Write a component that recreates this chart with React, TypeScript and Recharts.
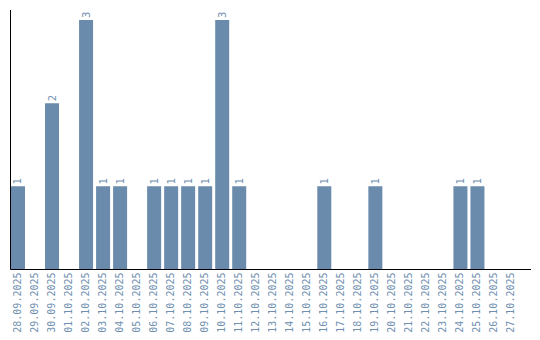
import React from 'react';
import { BarChart, Bar, XAxis, YAxis, LabelList } from 'recharts';

const dates: string[] = [
  '28.09.2025', '29.09.2025', '30.09.2025', '01.10.2025', '02.10.2025', '03.10.2025',
  '04.10.2025', '05.10.2025', '06.10.2025', '07.10.2025', '08.10.2025', '09.10.2025',
  '10.10.2025', '11.10.2025', '12.10.2025', '13.10.2025', '14.10.2025', '15.10.2025',
  '16.10.2025', '17.10.2025', '18.10.2025', '19.10.2025', '20.10.2025', '21.10.2025',
  '22.10.2025', '23.10.2025', '24.10.2025', '25.10.2025', '26.10.2025', '27.10.2025',
];
const counts: number[] = [
  1, 0, 2, 0, 3, 1, 1, 0, 1, 1, 1, 1, 3, 1, 0, 0, 0, 0, 1, 0, 0, 1, 0, 0, 0, 0, 1, 1, 0, 0,
];

const data = dates.map((d, i) => ({ date: d, count: counts[i] }));

const BAR_COLOR = '#6a8bab';
const TEXT_COLOR = '#7090b0';

const DateTick = (props: any) => {
  const { x, y, payload } = props;
  const ty = y - 5;
  return (
    <text
      x={x}
      y={ty}
      transform={`rotate(-90, ${x}, ${ty})`}
      textAnchor="end"
      dominantBaseline="central"
      fontFamily="'DejaVu Sans Mono', monospace"
      fontSize={10}
      fill={TEXT_COLOR}
    >
      {payload.value}
    </text>
  );
};

const ValueLabel = (props: any) => {
  const { x, y, width, value } = props;
  if (!value) return null;
  const cx = x + width / 2;
  const ty = y - 2;
  return (
    <text
      x={cx}
      y={ty}
      transform={`rotate(-90, ${cx}, ${ty})`}
      textAnchor="start"
      dominantBaseline="central"
      fontFamily="'DejaVu Sans', sans-serif"
      fontSize={10}
      fill={TEXT_COLOR}
    >
      {value}
    </text>
  );
};

export default function App() {
  return (
    <div style={{ position: 'absolute', left: 0, top: 0, width: 540, height: 340 }}>
      <BarChart
        width={540}
        height={340}
        data={data}
        margin={{ top: 10, left: 9.5, right: 9, bottom: 0 }}
        style={{ overflow: 'visible' }}
      >
        <XAxis
          dataKey="date"
          interval={0}
          tickLine={false}
          axisLine={{ stroke: '#000' }}
          tick={<DateTick />}
          height={70.5}
          padding={{ left: -1.5, right: 11.5 }}
        />
        <YAxis
          width={1}
          domain={[0, 3]}
          tick={false}
          tickLine={false}
          axisLine={{ stroke: '#000' }}
          padding={{ top: 10, bottom: 0 }}
        />
        <Bar dataKey="count" fill={BAR_COLOR} barSize={14} isAnimationActive={false}>
          <LabelList dataKey="count" content={<ValueLabel />} />
        </Bar>
      </BarChart>
    </div>
  );
}
